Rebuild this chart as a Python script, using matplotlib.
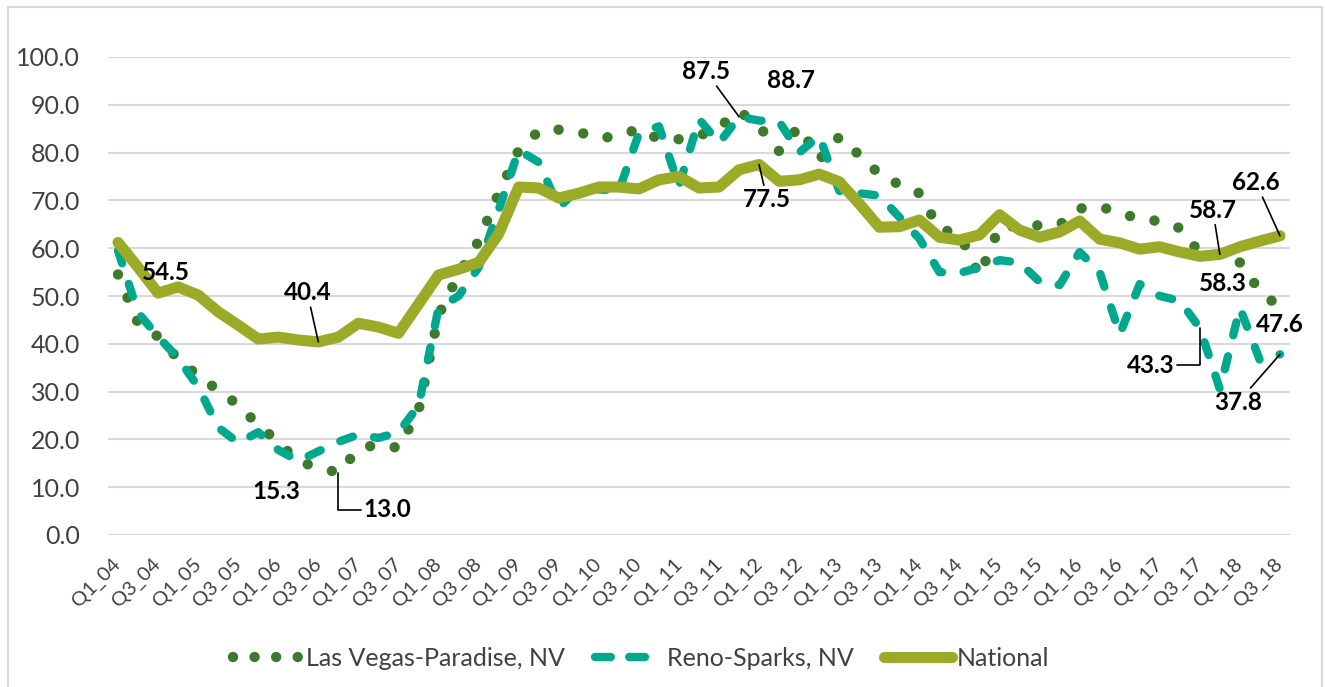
import matplotlib
matplotlib.use("Agg")
import matplotlib.pyplot as plt
from matplotlib.lines import Line2D
from matplotlib.patches import Rectangle

# quarters Q1_04 .. Q3_18
quarters = [f"Q{q}_{y:02d}" for y in range(4, 19) for q in (1, 2, 3, 4)][:59]

las_vegas = [
    54.5, 44.3, 41.5, 36.8, 33.3, 30.3, 27.2, 23.0, 19.5, 15.3,
    14.2, 13.0, 18.0, 19.0, 18.2, 26.0, 46.0, 54.5, 61.5, 71.5,
    80.5, 84.5, 84.8, 84.3, 83.0, 83.5, 85.0, 82.8, 82.8, 83.5,
    85.3, 88.7, 85.5, 80.3, 85.5, 78.5, 83.3, 79.5, 75.5, 73.3,
    71.5, 64.0, 63.0, 54.2, 64.5, 64.6, 64.8, 64.9, 68.3, 68.7,
    67.5, 66.0, 65.7, 64.2, 59.0, 58.6, 57.0, 51.0, 47.6]

reno = [
    59.5, 46.5, 41.5, 37.0, 31.0, 22.5, 19.3, 21.5, 17.8, 15.5,
    17.5, 19.5, 21.0, 20.3, 21.5, 27.0, 47.5, 50.0, 56.0, 68.0,
    80.5, 78.0, 68.5, 72.5, 72.3, 72.0, 84.0, 85.5, 73.0, 87.0,
    82.0, 87.5, 86.7, 86.5, 80.0, 83.5, 72.0, 71.5, 71.0, 66.5,
    62.0, 55.0, 54.8, 56.0, 57.5, 57.0, 53.0, 52.3, 59.2, 55.0,
    42.0, 52.5, 50.0, 49.0, 43.3, 30.5, 47.5, 36.5, 37.8]

national = [
    61.2, 56.0, 50.6, 51.9, 50.2, 46.7, 43.9, 41.0, 41.4, 40.8,
    40.4, 41.4, 44.3, 43.5, 42.2, 48.3, 54.4, 55.6, 57.0, 63.0,
    72.8, 72.6, 70.5, 71.5, 72.8, 72.8, 72.4, 74.3, 75.0, 72.6,
    72.8, 76.4, 77.5, 74.0, 74.3, 75.5, 73.9, 69.3, 64.4, 64.5,
    65.9, 62.3, 61.7, 62.8, 67.0, 63.8, 62.3, 63.4, 65.7, 61.9,
    61.1, 59.8, 60.3, 59.2, 58.3, 58.7, 60.3, 61.5, 62.6]

# data labels: series, index, offset in pixels, leader type
label_specs = [
    ("lv", 0, (48, 2), None),
    ("nat", 10, (-11, 49), "line"),
    ("lv", 9, (-22, -30), None),
    ("lv", 11, (49, -37), "elbow"),
    ("reno", 31, (-33, 45), "line"),
    ("lv", 31, (52, 31), None),
    ("nat", 32, (8, -35), "line"),
    ("nat", 58, (-24, 53), "line"),
    ("nat", 55, (-7, 44), "line"),
    ("nat", 54, (23, -27), None),
    ("lv", 58, (0, -17), None),
    ("reno", 54, (-49, -37), "elbow"),
    ("reno", 58, (-42, -48), "line"),
]

plt.rcParams["font.family"] = ["Lato", "DejaVu Sans"]

C_LV = "#3E7A2C"
C_RENO = "#00A88E"
C_NAT = "#9BAB28"
C_TXT = "#404040"

fig = plt.figure(figsize=(13.25, 6.87), dpi=100)
ax = fig.add_axes([108 / 1325, 1 - 535 / 687, 1182 / 1325, 478 / 687])

x = list(range(len(quarters)))
ax.plot(x, las_vegas, color=C_LV, lw=7.5, linestyle=(0, (0.001, 2.4)),
        dash_capstyle="round", zorder=3)
ax.plot(x, reno, color=C_RENO, lw=6, linestyle=(0, (1.6, 2.6)),
        dash_capstyle="round", dash_joinstyle="round", zorder=4)
ax.plot(x, national, color=C_NAT, lw=8, solid_capstyle="round",
        solid_joinstyle="round", zorder=5)

ax.set_xlim(-0.5, len(quarters) - 0.5)
ax.set_ylim(0, 100)
ax.set_yticks(range(0, 101, 10))
ax.set_yticklabels([f"{v:.1f}" for v in range(0, 101, 10)])
ax.set_xticks(x[::2])
ax.set_xticklabels(quarters[::2], rotation=45, ha="right", va="center",
                   rotation_mode="anchor")
ax.tick_params(axis="y", length=0, pad=20, labelsize=18, labelcolor=C_TXT)
ax.tick_params(axis="x", length=0, pad=19, labelsize=14.5, labelcolor=C_TXT)
ax.yaxis.grid(True, color="#D9D9D9", lw=1.5)
ax.set_axisbelow(True)
for s in ax.spines.values():
    s.set_visible(False)

series = {"lv": las_vegas, "reno": reno, "nat": national}
for key, idx, off, leader in label_specs:
    val = series[key][idx]
    props = None
    if leader == "line":
        props = dict(arrowstyle="-", color="black", lw=1.2, shrinkA=0, shrinkB=0)
    elif leader == "elbow":
        props = dict(arrowstyle="-", color="black", lw=1.2, shrinkA=0, shrinkB=0,
                     connectionstyle="angle,angleA=0,angleB=90,rad=0")
    ax.annotate(f"{val:.1f}", xy=(idx, val), xytext=off,
                textcoords="offset pixels", ha="center", va="center",
                fontsize=17.5, fontweight="bold", color="black",
                arrowprops=props, zorder=6)

handles = [
    Line2D([], [], color=C_LV, lw=7.5, linestyle=(0, (0.001, 2.07)),
           dash_capstyle="round"),
    Line2D([], [], color=C_RENO, lw=6, linestyle=(0, (1.9, 2.2)),
           dash_capstyle="round"),
    Line2D([], [], color=C_NAT, lw=8, solid_capstyle="round"),
]
names = ["Las Vegas-Paradise, NV", "Reno-Sparks, NV", "National"]
leg = fig.legend(handles, names, loc="center",
                 bbox_to_anchor=(0.484, 1 - 658 / 687), ncol=3,
                 frameon=False, fontsize=18, handlelength=2.7,
                 handletextpad=0.2, columnspacing=1.2)
for t in leg.get_texts():
    t.set_color(C_TXT)

fig.patches.append(Rectangle((8 / 1325, -0.05), 1314 / 1325, 1.05 - 7 / 687,
                             transform=fig.transFigure, fill=False,
                             edgecolor="#D9D9D9", lw=1.5))

fig.savefig("out.png", dpi=100)
